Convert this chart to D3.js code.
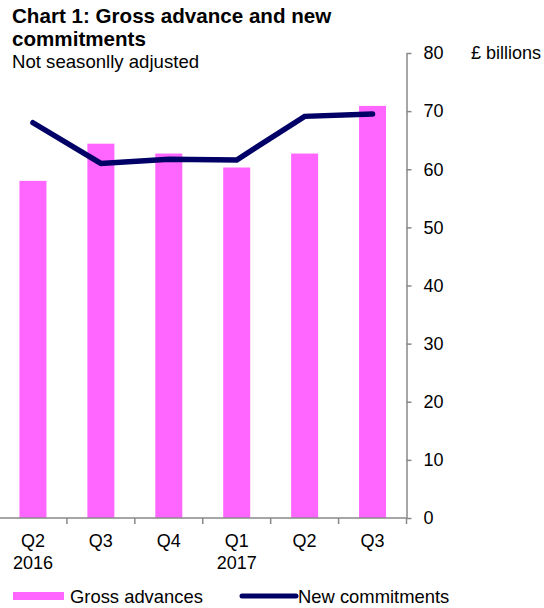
<!DOCTYPE html>
<html>
<head>
<meta charset="utf-8">
<script src="https://cdn.jsdelivr.net/npm/d3@7"></script>
<style>
  html, body { margin: 0; padding: 0; background: #fff; }
  svg { display: block; font-family: "Liberation Sans", Arial, sans-serif; }
</style>
</head>
<body>
<svg id="chart" width="544" height="608"></svg>
<script>
const quarters = ["Q2", "Q3", "Q4", "Q1", "Q2", "Q3"];
const years = ["2016", "", "", "2017", "", ""];
const grossAdvances = [58.0, 64.4, 62.7, 60.3, 62.7, 70.9];
const newCommitments = [68.0, 61.0, 61.7, 61.6, 69.1, 69.5];
const yTicks = [0, 10, 20, 30, 40, 50, 60, 70, 80];

const svg = d3.select("#chart");
const ids = quarters.map((q, i) => i);

const xb = d3.scaleBand().domain(ids).range([-1, 406.5]);
const y = d3.scaleLinear().domain([0, 80]).range([518, 53]);

// bars
svg.append("g").selectAll("rect").data(grossAdvances).join("rect")
  .attr("x", (d, i) => xb(i) + xb.bandwidth() / 2 - 13.5)
  .attr("width", 27)
  .attr("y", d => y(d))
  .attr("height", d => y(0) - y(d))
  .attr("fill", "#ff66ff");

// right axis
const yAxis = d3.axisRight(y).tickValues(yTicks).tickSize(5).tickPadding(12).tickSizeOuter(0);
const ya = svg.append("g").attr("transform", "translate(406.5,0)").call(yAxis);
ya.select(".domain").attr("stroke", "#888").attr("stroke-width", 1.5);
ya.selectAll(".tick line").attr("stroke", "#888").attr("stroke-width", 1.5);
ya.selectAll(".tick text").attr("font-size", 18).attr("fill", "#000")
  .attr("font-family", "'Liberation Sans', Arial, sans-serif");

// bottom axis
const xAxisG = svg.append("g").attr("transform", "translate(0,518)");
xAxisG.append("line").attr("x1", xb.range()[0]).attr("x2", xb.range()[1])
  .attr("stroke", "#888").attr("stroke-width", 1.5);
xAxisG.selectAll("line.tk").data(ids.concat([ids.length])).join("line").attr("class", "tk")
  .attr("x1", i => i < ids.length ? xb(i) : xb.range()[1])
  .attr("x2", i => i < ids.length ? xb(i) : xb.range()[1])
  .attr("y1", 0).attr("y2", 6)
  .attr("stroke", "#888").attr("stroke-width", 1.5);
xAxisG.selectAll("text.q").data(quarters).join("text").attr("class", "q")
  .attr("x", (d, i) => xb(i) + xb.bandwidth() / 2)
  .attr("y", 28.5)
  .attr("text-anchor", "middle").attr("font-size", 18).text(d => d);
xAxisG.selectAll("text.yr").data(years).join("text").attr("class", "yr")
  .attr("x", (d, i) => xb(i) + xb.bandwidth() / 2)
  .attr("y", 51)
  .attr("text-anchor", "middle").attr("font-size", 18).text(d => d);

// line
const line = d3.line().x((d, i) => xb(i) + xb.bandwidth() / 2).y(d => y(d));
svg.append("path").datum(newCommitments)
  .attr("d", line).attr("fill", "none")
  .attr("stroke", "#000066").attr("stroke-width", 5.5)
  .attr("stroke-linecap", "round").attr("stroke-linejoin", "miter");

// titles
svg.append("text").attr("x", 12).attr("y", 23).attr("font-size", 20.6).attr("font-weight", "bold")
  .text("Chart 1: Gross advance and new");
svg.append("text").attr("x", 12).attr("y", 46).attr("font-size", 20.6).attr("font-weight", "bold")
  .text("commitments");
svg.append("text").attr("x", 12).attr("y", 68).attr("font-size", 18.6)
  .text("Not seasonlly adjusted");
svg.append("text").attr("x", 471).attr("y", 59).attr("font-size", 18)
  .text("£ billions");

// legend
const lg = svg.append("g");
lg.append("rect").attr("x", 13).attr("y", 592).attr("width", 51).attr("height", 8).attr("fill", "#ff66ff");
lg.append("text").attr("x", 70).attr("y", 602.5).attr("font-size", 18.4).text("Gross advances");
lg.append("line").attr("x1", 242).attr("x2", 296).attr("y1", 596).attr("y2", 596)
  .attr("stroke", "#000066").attr("stroke-width", 5).attr("stroke-linecap", "round");
lg.append("text").attr("x", 298).attr("y", 602.5).attr("font-size", 18.4).text("New commitments");
</script>
</body>
</html>
